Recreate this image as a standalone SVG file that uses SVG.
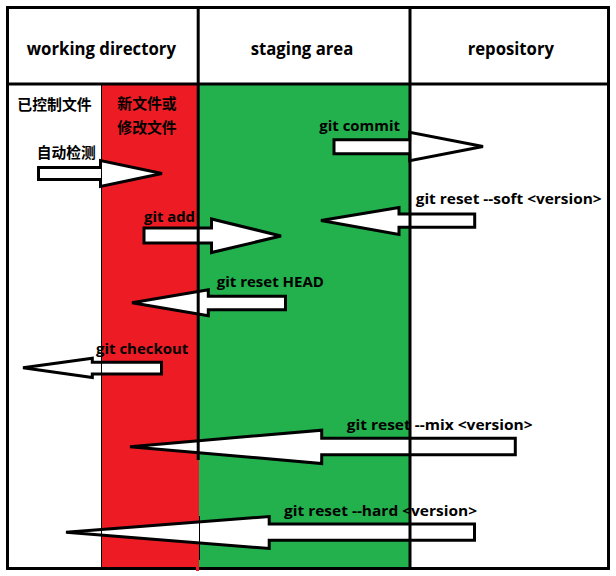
<svg xmlns="http://www.w3.org/2000/svg" width="616" height="576" viewBox="0 0 616 576">
<style>
.hdr{font-family:"Open Sans","Noto Sans","Liberation Sans",sans-serif;font-weight:bold;font-size:18px;fill:#000}
.lbl{font-family:"Open Sans","Noto Sans","Liberation Sans",sans-serif;font-weight:bold;font-size:15px;fill:#000}
.cjk{font-family:"Noto Sans CJK SC","Noto Sans",sans-serif;font-weight:bold;font-size:15px;fill:#000}
.arrow{fill:#fff;stroke:#000;stroke-width:3;stroke-linejoin:miter;stroke-miterlimit:4}
.thick{stroke:#000;stroke-width:3;fill:none}
.thin{stroke:#000;stroke-width:1;fill:none}
</style>
<rect x="0" y="0" width="616" height="576" fill="#fff"/>
<g id="col-working">
  <rect x="101" y="85" width="98" height="482" fill="#ed1c24"/>
</g>
<g id="col-staging">
  <rect x="199" y="85" width="211" height="482" fill="#22b14c"/>
</g>
<g id="connectors">
  <polygon id="auto-detect" class="arrow" points="38.5,167.5 100.5,167.5 100.5,160.5 162,173.5 100.5,186.5 100.5,179.5 38.5,179.5"/>
  <polygon id="git-add" class="arrow" points="144,228 211.5,228 211.5,219 281,236 211.5,252.5 211.5,243 144,243"/>
  <polygon id="git-commit" class="arrow" points="334,139.7 409.7,139.7 409.7,132.2 483,146.5 409.7,160.8 409.7,153.7 334,153.7"/>
  <polygon id="git-reset-soft" class="arrow" points="321,220.5 399,207.5 399,214 474.7,214 474.7,227.3 399,227.3 399,234.5"/>
  <polygon id="git-reset-head" class="arrow" points="132,302.7 208.3,289.8 208.3,296.3 285.5,296.3 285.5,309.7 208.3,309.7 208.3,315.8"/>
  <polygon id="git-checkout" class="arrow" points="23,367.7 92.3,358.2 92.3,362.3 161.5,362.3 161.5,374 92.3,374 92.3,377.5"/>
  <polygon id="git-reset-mix" class="arrow" points="130,446.7 321.7,430.2 321.7,438.3 515.3,438.3 515.3,454.7 321.7,454.7 321.7,463.5"/>
  <polygon id="git-reset-hard" class="arrow" points="66,532.3 269.2,516.5 269.2,524 474.5,524 474.5,540.3 269.2,540.3 269.2,548.5"/>
</g>
<g id="grid">
  <rect class="thick" x="7.5" y="7.5" width="601" height="561"/>
  <line class="thick" x1="7.5" y1="84" x2="608.5" y2="84"/>
  <line class="thick" x1="198.2" y1="7.5" x2="198.2" y2="460"/>
  <line class="thin" x1="199.5" y1="516" x2="199.5" y2="560"/>
  <line class="thick" x1="410" y1="7.5" x2="410" y2="568.5"/>
  <line class="thin" x1="101.5" y1="85" x2="101.5" y2="567"/>
  <rect x="196" y="567" width="3" height="4" fill="#ed1c24"/>
</g>
<g id="headers">
  <text class="hdr" x="26.7" y="55" textLength="149.3" lengthAdjust="spacingAndGlyphs">working directory</text>
  <text class="hdr" x="250.7" y="55" textLength="102.6" lengthAdjust="spacingAndGlyphs">staging area</text>
  <text class="hdr" x="467.7" y="55" textLength="86.3" lengthAdjust="spacingAndGlyphs">repository</text>
</g>
<g id="labels">
  <text class="cjk" x="17.3" y="110" textLength="74.4" lengthAdjust="spacingAndGlyphs">已控制文件</text>
  <text class="cjk" x="117.3" y="108.5" textLength="59.4" lengthAdjust="spacingAndGlyphs">新文件或</text>
  <text class="cjk" x="117.3" y="133" textLength="59.4" lengthAdjust="spacingAndGlyphs">修改文件</text>
  <text class="cjk" x="36.7" y="158" textLength="59" lengthAdjust="spacingAndGlyphs">自动检测</text>
  <text class="lbl" x="144" y="222" textLength="51" lengthAdjust="spacingAndGlyphs">git add</text>
  <text class="lbl" x="319.3" y="131" textLength="80.7" lengthAdjust="spacingAndGlyphs">git commit</text>
  <text class="lbl" x="415.7" y="203.5" textLength="186" lengthAdjust="spacingAndGlyphs">git reset --soft &lt;version&gt;</text>
  <text class="lbl" x="216.7" y="287" textLength="107.3" lengthAdjust="spacingAndGlyphs">git reset HEAD</text>
  <text class="lbl" x="96" y="354" textLength="92.3" lengthAdjust="spacingAndGlyphs">git checkout</text>
  <text class="lbl" x="346.7" y="430" textLength="186" lengthAdjust="spacingAndGlyphs">git reset --mix &lt;version&gt;</text>
  <text class="lbl" x="284" y="516" textLength="193" lengthAdjust="spacingAndGlyphs">git reset --hard &lt;version&gt;</text>
</g>
</svg>
